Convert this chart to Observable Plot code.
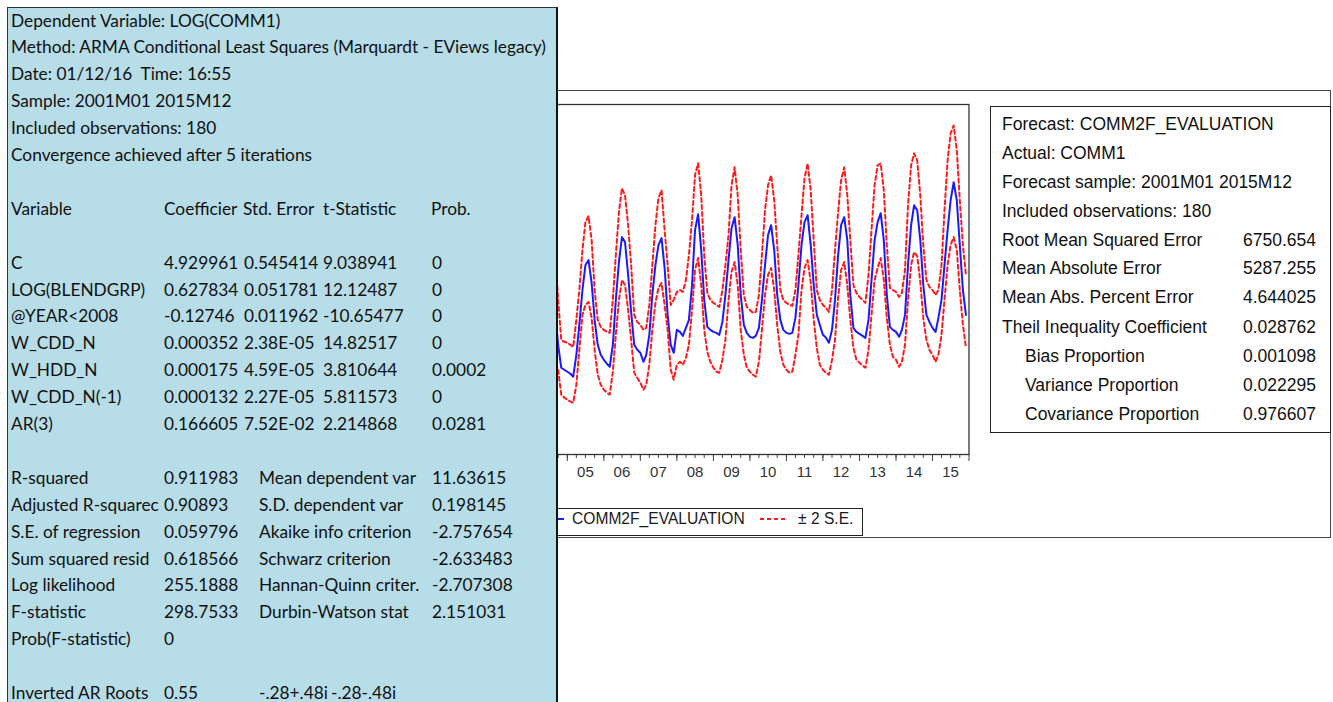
<!DOCTYPE html>
<html><head><meta charset="utf-8">
<script src="https://cdn.jsdelivr.net/npm/d3@7"></script>
<script src="https://cdn.jsdelivr.net/npm/@observablehq/plot@0.6"></script>
<style>
body{margin:0;width:1333px;height:702px;overflow:hidden;background:#fff;position:relative;font-family:"Liberation Sans",Arial,sans-serif;color:#1a1a1a}
.abs{position:absolute;white-space:pre}
.abs svg{display:block}
#window{position:absolute;left:530px;top:90px;width:801px;height:448px;border:1px solid #444;box-sizing:border-box;z-index:0}
#chart{position:absolute;left:0;top:0;z-index:1}
#legend{position:absolute;left:530px;top:508px;width:333px;height:28px;border:1.5px solid #222;box-sizing:border-box;background:#fff;z-index:2}
#stats{position:absolute;left:990px;top:106px;width:341px;height:327px;border:1.5px solid #222;box-sizing:border-box;background:#fff;z-index:2}
#table{position:absolute;left:7px;top:7px;width:551px;height:720px;background:#b7dde8;border-left:1px solid #333;border-top:1px solid #333;border-right:2.5px solid #111;box-sizing:border-box;z-index:3;font-family:Lato,"Noto Sans",sans-serif;font-size:17.3px;color:#111}
.trow{position:absolute;line-height:27px;height:27px;white-space:pre}
</style></head>
<body>
<div id="window"></div>
<div id="chart"></div>
<div id="legend"></div>
<div id="stats"></div>
<div id="table"></div>
<script>
// ---------------- data ----------------
const seriesStart = [2004, 7]; // 2004M08 (month index 0-based)
const forecast = [
  127.5,122.5,105,93.5,92.5,                                       // 2004 Aug-Dec
  91.5,90.5,89,100,115,132.5,145,147.5,136,117.5,105,100,          // 2005
  97.5,95.5,94,105,127.5,146.5,159,156.5,140,121.5,105,102.5,      // 2006
  101,96.5,100,110,130,145,155,158.5,143.5,120,105,101,            // 2007
  112.5,111.5,109.5,113.5,117.5,135,162.5,170.5,152.5,127.5,114,112.5, // 2008
  111.5,111,110,116.5,130,147.5,163.5,169,155,130,115,111,         // 2009
  109,108.5,109.5,113.5,127.5,145,160,165,152.5,130,117.5,112.5,   // 2010
  111,110.5,111,118.5,135,155,166.5,170,155,135,120,115,           // 2011
  110,108.5,106,112.5,127.5,150,165,169,157.5,130,113.5,111.5,     // 2012
  110.5,109.5,108.5,117.5,137.5,157.5,166.5,171,157.5,130,114,112.5, // 2013
  111.5,109,112.5,120,145,165,175,172.5,157.5,135,120,116.5,       // 2014
  113.5,111.5,118.5,127.5,145,162.5,177.5,186.5,177.5,155,132.5,120 // 2015
];
const upper = [
  162.5,152.5,127.5,107.5,106.5,
  106,105,104,117.5,132.5,152.5,166.5,169.5,157.5,132.5,117.5,114,
  112.5,111.5,111,127.5,150,171.5,183.5,180,165,145,120,116.5,
  115,112.5,113.5,125,145,165,178.5,182.5,162.5,145,125,127.5,
  131.5,132.5,131.5,137.5,150,167.5,190,196,180,150,131,127.5,
  126,125,124,132.5,145,160,185,194,180,152.5,130,124,
  122.5,121,121.5,130,150,172.5,185,190,177.5,155,132.5,127.5,
  126,125,124.5,132.5,150,170,188.5,196,182.5,157.5,132.5,127.5,
  125,123.5,121.5,132.5,152.5,171.5,187.5,194,180,157.5,135,131,
  129,127.5,126,140,162.5,185,195,196,182.5,155,133.5,132.5,
  131.5,129,131,142.5,175,195,201,197.5,180,155,137.5,134,
  132.5,130,132.5,145,172.5,197.5,211,215,202.5,177.5,155,140
];
const lower = [
  102.5,97.5,92.5,80,78.5,
  77.5,76.5,76,85,102.5,120,125,126.5,118.5,102.5,90,85,
  82.5,81,80,91.5,110,127.5,137.5,135,122.5,107.5,91,88.5,
  86,82.5,85,95,112.5,126,133.5,136,125,112.5,92.5,87.5,
  95,96.5,95,98.5,105,122.5,142.5,148.5,135,112.5,101.5,96.5,
  93.5,91.5,91,97.5,107.5,127.5,141.5,146.5,135,112.5,100,93.5,
  91.5,90,89,96.5,112.5,130,140,143.5,132.5,115,101.5,95,
  92.5,91,91.5,100,110,132.5,143.5,147.5,136.5,117.5,103.5,95,
  92.5,91,90,97.5,107.5,128.5,142.5,146.5,135,117.5,103.5,97.5,
  96,94.5,93.5,102.5,120,137.5,143.5,148.5,137.5,118.5,105,99,
  97.5,94,96.5,105,127.5,145,151.5,149.5,136.5,118.5,107.5,102.5,
  100,96.5,100,110,127.5,145,155,159,152.5,132.5,115,104
];
const labelYears = [2005,2006,2007,2008,2009,2010,2011,2012,2013,2014,2015];
const yearLabels = ["05","06","07","08","09","10","11","12","13","14","15"];
const legendLabels = ["COMM2F_EVALUATION", "± 2 S.E."];

const headerLines = [
  "Dependent Variable: LOG(COMM1)",
  "Method: ARMA Conditional Least Squares (Marquardt - EViews legacy)",
  "Date: 01/12/16  Time: 16:55",
  "Sample: 2001M01 2015M12",
  "Included observations: 180",
  "Convergence achieved after 5 iterations"
];
const coefHeader = ["Variable","Coefficier","Std. Error","t-Statistic","Prob."];
const variables = ["C","LOG(BLENDGRP)","@YEAR<2008","W_CDD_N","W_HDD_N","W_CDD_N(-1)","AR(3)"];
const coefs = ["4.929961","0.627834","-0.12746","0.000352","0.000175","0.000132","0.166605"];
const stdErrs = ["0.545414","0.051781","0.011962","2.38E-05","4.59E-05","2.27E-05","7.52E-02"];
const tStats = ["9.038941","12.12487","-10.65477","14.82517","3.810644","5.811573","2.214868"];
const probs = ["0","0","0","0","0.0002","0","0.0281"];
const statLabelsL = ["R-squared","Adjusted R-squarec","S.E. of regression","Sum squared resid","Log likelihood","F-statistic","Prob(F-statistic)"];
const statValuesL = ["0.911983","0.90893","0.059796","0.618566","255.1888","298.7533","0"];
const statLabelsR = ["Mean dependent var","S.D. dependent var","Akaike info criterion","Schwarz criterion","Hannan-Quinn criter.","Durbin-Watson stat",""];
const statValuesR = ["11.63615","0.198145","-2.757654","-2.633483","-2.707308","2.151031",""];
const arRoots = ["Inverted AR Roots","0.55","-.28+.48i","-.28-.48i"];

const evalLabels = ["Forecast: COMM2F_EVALUATION","Actual: COMM1","Forecast sample: 2001M01 2015M12","Included observations: 180",
  "Root Mean Squared Error","Mean Absolute Error","Mean Abs. Percent Error","Theil Inequality Coefficient",
  "Bias Proportion","Variance Proportion","Covariance Proportion"];
const evalValues = ["","","","","6750.654","5287.255","4.644025","0.028762","0.001098","0.022295","0.976607"];
const evalIndent = [0,0,0,0,0,0,0,0,1,1,1];

// ---------------- chart ----------------
const t0 = new Date(Date.UTC(seriesStart[0], seriesStart[1], 1));
const rows = forecast.map((f, i) => ({date: d3.utcMonth.offset(t0, i), forecast: f, upper: upper[i], lower: lower[i]}));
const x0 = new Date(Date.UTC(2001,0,1)), x1 = new Date(Date.UTC(2016,0,1));
const yearTicks = d3.utcYear.range(x0, new Date(Date.UTC(2016,0,2)));
const quarterTicks = d3.utcMonth.every(3).range(x0, x1);
const labelDates = labelYears.map(y => new Date(Date.UTC(y,6,1)));

const chart = Plot.plot({
  width: 1333, height: 702,
  marginLeft: 420.75, marginRight: 364.5, marginTop: 104, marginBottom: 248,
  style: {background: "transparent", fontFamily: "Liberation Sans, Arial, sans-serif", fontSize: "15px", color: "#333"},
  x: {type: "utc", domain: [x0, x1], axis: null},
  y: {domain: [50, 225.5], axis: null},
  marks: [
    Plot.axisX({ticks: quarterTicks, tickSize: 4, text: null, stroke: "#444"}),
    Plot.axisX({ticks: yearTicks, tickSize: 7, text: null, stroke: "#444"}),
    Plot.axisX({ticks: labelDates, tickSize: 0, tickPadding: 12, fontSize: 15, fill: "#333",
      tickFormat: d => yearLabels[labelYears.indexOf(d.getUTCFullYear())]}),
    Plot.line(rows, {x: "date", y: "forecast", stroke: "#1a1aff", strokeWidth: 2}),
    Plot.line(rows, {x: "date", y: "upper", stroke: "#ff1a1a", strokeWidth: 2, strokeDasharray: "4,3"}),
    Plot.line(rows, {x: "date", y: "lower", stroke: "#ff1a1a", strokeWidth: 2, strokeDasharray: "4,3"}),
    Plot.frame({stroke: "#333", strokeWidth: 1.3})
  ]
});
document.getElementById("chart").appendChild(chart);

// ---------------- legend ----------------
const lg = document.body;
function addAbs(html, left, top, style) {
  const el = document.createElement("div");
  el.className = "abs";
  el.innerHTML = html;
  el.style.left = left + "px"; el.style.top = top + "px";
  el.style.zIndex = 2;
  if (style) Object.assign(el.style, style);
  lg.appendChild(el);
  return el;
}
addAbs('<svg width="30" height="4"><line x1="0" x2="30" y1="2" y2="2" stroke="#1a1aff" stroke-width="2"/></svg>', 534, 517);
addAbs(legendLabels[0], 572, 508.5, {fontSize: "15.6px", lineHeight: "19px", color: "#1a1a1a"});
addAbs('<svg width="28" height="4"><line x1="0" x2="28" y1="2" y2="2" stroke="#ff1a1a" stroke-width="2" stroke-dasharray="4,3"/></svg>', 760, 517);
addAbs(legendLabels[1], 798, 508.5, {fontSize: "15.6px", lineHeight: "19px", color: "#1a1a1a"});

// ---------------- evaluation box ----------------
const rowY = [124,153,182,211,240,268,297,327,356,385,414];
evalLabels.forEach((lab, i) => {
  addAbs(lab, evalIndent[i] ? 1025 : 1002, rowY[i] - 14.5, {fontSize: "17.5px", lineHeight: "29px", color: "#111", zIndex: 3});
  if (evalValues[i]) addAbs(evalValues[i], 0, rowY[i] - 14.5, {fontSize: "17.5px", lineHeight: "29px", color: "#111", zIndex: 3, left: "auto", right: (1333 - 1316) + "px"});
});

// ---------------- regression table ----------------
const tb = document.getElementById("table");
function cell(text, x, row) {
  const el = document.createElement("div");
  el.className = "trow";
  el.textContent = text;
  el.style.left = (x - 8) + "px";
  el.style.top = (20 + 26.9 * row - 13.5 - 8) + "px";
  tb.appendChild(el);
}
headerLines.forEach((t, i) => cell(t, 11, i));
[11,164,243,323,431].forEach((x, j) => cell(coefHeader[j], x, 7));
variables.forEach((v, i) => {
  cell(v, 11, 9 + i); cell(coefs[i], 164, 9 + i); cell(stdErrs[i], 244, 9 + i);
  cell(tStats[i], 323, 9 + i); cell(probs[i], 432, 9 + i);
});
statLabelsL.forEach((v, i) => {
  cell(v, 11, 17 + i); cell(statValuesL[i], 164, 17 + i);
  if (statLabelsR[i]) cell(statLabelsR[i], 259, 17 + i);
  if (statValuesR[i]) cell(statValuesR[i], 432, 17 + i);
});
cell(arRoots[0], 11, 25); cell(arRoots[1], 164, 25); cell(arRoots[2], 259, 25); cell(arRoots[3], 331, 25);
</script>
</body></html>
